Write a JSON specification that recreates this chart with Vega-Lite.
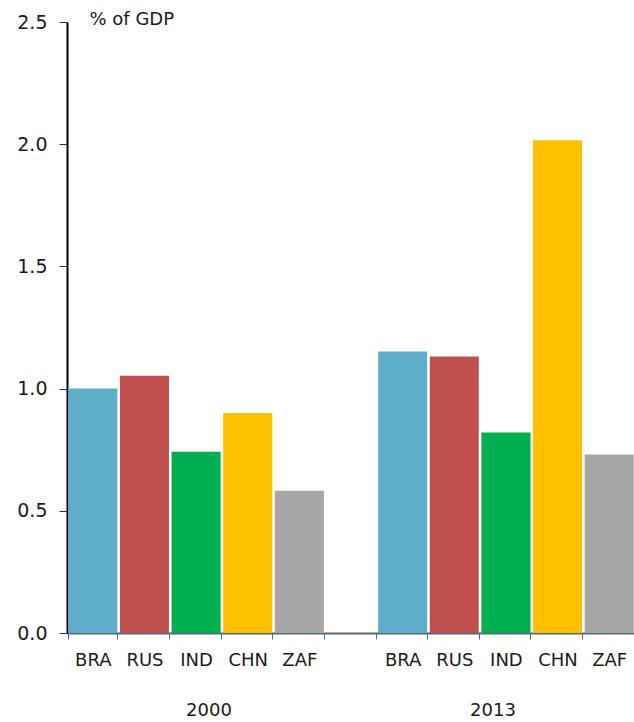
{
  "$schema": "https://vega.github.io/schema/vega-lite/v6.json",
  "width": 568,
  "height": 611,
  "padding": {"left": 16, "top": 10, "right": 0, "bottom": 0},
  "background": "white",
  "config": {
    "view": {"stroke": null},
    "font": "DejaVu Sans"
  },
  "layer": [
    {
      "data": {
        "values": [
          {"slot": "2000 BRA", "year": "2000", "country": "BRA", "value": 1.0},
          {"slot": "2000 RUS", "year": "2000", "country": "RUS", "value": 1.053},
          {"slot": "2000 IND", "year": "2000", "country": "IND", "value": 0.742},
          {"slot": "2000 CHN", "year": "2000", "country": "CHN", "value": 0.90},
          {"slot": "2000 ZAF", "year": "2000", "country": "ZAF", "value": 0.582},
          {"slot": "2013 BRA", "year": "2013", "country": "BRA", "value": 1.152},
          {"slot": "2013 RUS", "year": "2013", "country": "RUS", "value": 1.131},
          {"slot": "2013 IND", "year": "2013", "country": "IND", "value": 0.82},
          {"slot": "2013 CHN", "year": "2013", "country": "CHN", "value": 2.016},
          {"slot": "2013 ZAF", "year": "2013", "country": "ZAF", "value": 0.73}
        ]
      },
      "mark": {"type": "bar"},
      "encoding": {
        "x": {
          "field": "slot",
          "type": "nominal",
          "sort": null,
          "scale": {
            "domain": ["2000 BRA", "2000 RUS", "2000 IND", "2000 CHN", "2000 ZAF", "gap", "2013 BRA", "2013 RUS", "2013 IND", "2013 CHN", "2013 ZAF"],
            "paddingInner": 0.05,
            "paddingOuter": 0.025
          },
          "axis": {
            "title": null,
            "labelAngle": 0,
            "labelExpr": "datum.value == 'gap' ? '' : split(datum.value, ' ')[1]",
            "tickBand": "extent",
            "domainColor": "#56687a",
            "domainWidth": 2,
            "tickColor": "#56687a",
            "tickWidth": 1,
            "tickSize": 6,
            "labelPadding": 12,
            "labelFontSize": 18,
            "labelColor": "#1a1a1a",
            "labelFont": "DejaVu Sans"
          }
        },
        "y": {
          "field": "value",
          "type": "quantitative",
          "scale": {"domain": [0, 2.5], "nice": false},
          "axis": {
            "values": [0, 0.5, 1.0, 1.5, 2.0, 2.5],
            "format": ".1f",
            "grid": false,
            "domainColor": "#000000",
            "domainWidth": 2,
            "tickColor": "#333333",
            "tickWidth": 1,
            "tickSize": 8,
            "labelPadding": 12,
            "labelFontSize": 19,
            "labelColor": "#1a1a1a",
            "title": "% of GDP",
            "titleAngle": 0,
            "titleAlign": "left",
            "titleBaseline": "middle",
            "titleX": 22,
            "titleY": -3,
            "titleFontSize": 18,
            "titleFontWeight": "normal",
            "titleColor": "#1a1a1a"
          }
        },
        "color": {
          "field": "country",
          "type": "nominal",
          "scale": {
            "domain": ["BRA", "RUS", "IND", "CHN", "ZAF"],
            "range": ["#5eaec9", "#c0504d", "#00b050", "#ffc000", "#a6a6a6"]
          },
          "legend": null
        }
      }
    },
    {
      "data": {"values": [{"year": "2000"}, {"year": "2013"}]},
      "mark": {"type": "text", "baseline": "top", "dy": 69, "fontSize": 18, "color": "#1a1a1a"},
      "encoding": {
        "x": {
          "field": "year",
          "type": "nominal",
          "scale": {"type": "point", "padding": 0.5},
          "axis": null
        },
        "y": {"datum": 0, "type": "quantitative"},
        "text": {"field": "year"}
      }
    }
  ],
  "resolve": {"scale": {"x": "independent"}}
}
